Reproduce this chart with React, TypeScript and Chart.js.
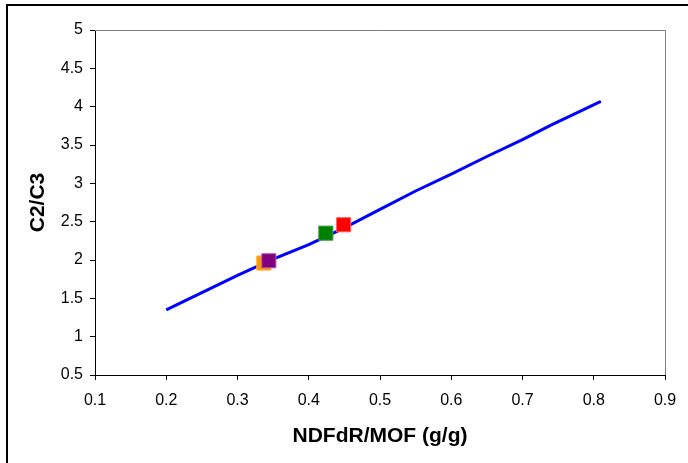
import React, { useEffect, useRef } from "react";
import { Chart, registerables } from "chart.js";

Chart.register(...registerables);

const lineX = [0.2, 0.3, 0.35, 0.4, 0.45, 0.5, 0.55, 0.6, 0.65, 0.7, 0.74, 0.81];
const lineY = [1.35, 1.8, 2.01, 2.2, 2.42, 2.66, 2.9, 3.12, 3.35, 3.57, 3.76, 4.07];

// index 0 is drawn on top
const markerNames = ["red", "green", "purple", "orange"];
const markerX = [0.449, 0.424, 0.344, 0.337];
const markerY = [2.46, 2.35, 1.99, 1.96];
const markerColors = ["#FF0000", "#008000", "#800080", "#FF9900"];
const markerBorders = ["#FF6060", "#40A040", "#B060B0", "#FFB040"];

const xTicks = [0.1, 0.2, 0.3, 0.4, 0.5, 0.6, 0.7, 0.8, 0.9];
const yTicks = [0.5, 1, 1.5, 2, 2.5, 3, 3.5, 4, 4.5, 5];

const framePlugin = {
  id: "frame",
  afterDraw(chart: any) {
    const { ctx, chartArea } = chart;
    ctx.save();
    ctx.strokeStyle = "#808080";
    ctx.lineWidth = 1;
    ctx.beginPath();
    ctx.moveTo(chartArea.left, chartArea.top + 0.5);
    ctx.lineTo(chartArea.right + 0.5, chartArea.top + 0.5);
    ctx.lineTo(chartArea.right + 0.5, chartArea.bottom);
    ctx.stroke();
    ctx.strokeStyle = "#000000";
    ctx.lineWidth = 2;
    ctx.beginPath();
    ctx.moveTo(7, 463);
    ctx.lineTo(7, 5);
    ctx.lineTo(688, 5);
    ctx.stroke();
    ctx.restore();
  },
};

export default function App() {
  const ref = useRef<HTMLCanvasElement>(null);
  useEffect(() => {
    document.body.style.margin = "0";
    const datasets: any[] = markerNames.map((n, i) => ({
      type: "scatter",
      label: n,
      data: [{ x: markerX[i], y: markerY[i] }],
      pointStyle: "rect",
      pointRadius: 10,
      backgroundColor: markerColors[i],
      borderColor: markerBorders[i],
      borderWidth: 1,
      order: 1,
    }));
    datasets.push({
      type: "line",
      label: "fit",
      data: lineX.map((x, i) => ({ x, y: lineY[i] })),
      borderColor: "#0000FF",
      borderWidth: 3,
      pointRadius: 0,
      fill: false,
      tension: 0,
      order: 2,
    });
    const font = "'Liberation Sans', Arial, sans-serif";
    const chart = new Chart(ref.current!, {
      type: "scatter",
      data: { datasets },
      plugins: [framePlugin],
      options: {
        animation: false,
        responsive: false,
        layout: { padding: { left: 0, top: 30, right: 23, bottom: 0 } },
        plugins: { legend: { display: false }, tooltip: { enabled: false } },
        scales: {
          x: {
            type: "linear",
            min: 0.1,
            max: 0.9,
            afterBuildTicks: (s: any) => { s.ticks = xTicks.map((v) => ({ value: v })); },
            afterFit: (s: any) => { s.height = 88; },
            ticks: { color: "#000", font: { family: font, size: 16 }, padding: 11, callback: (v: any) => String(v) },
            grid: { display: true, drawOnChartArea: false, tickLength: 5, color: "#000" },
            border: { color: "#000", width: 1 },
            title: { display: true, text: "NDFdR/MOF (g/g)", color: "#000", font: { family: font, size: 21, weight: "bold" }, padding: { top: 0, bottom: 14 } },
          },
          y: {
            type: "linear",
            min: 0.5,
            max: 5,
            afterBuildTicks: (s: any) => { s.ticks = yTicks.map((v) => ({ value: v })); },
            afterFit: (s: any) => { s.width = 95; },
            ticks: { color: "#000", font: { family: font, size: 16 }, padding: 7, callback: (v: any) => String(v) },
            grid: { display: true, drawOnChartArea: false, tickLength: 5, color: "#000" },
            border: { color: "#000", width: 1 },
            title: { display: true, text: "C2/C3", color: "#000", font: { family: font, size: 21, weight: "bold" }, padding: { top: 26, bottom: 0 } },
          },
        },
      } as any,
    });
    return () => chart.destroy();
  }, []);
  return (
    <div style={{ position: "relative", width: 688, height: 463 }}>
      <canvas ref={ref} width={688} height={463} style={{ display: "block" }} />
    </div>
  );
}
